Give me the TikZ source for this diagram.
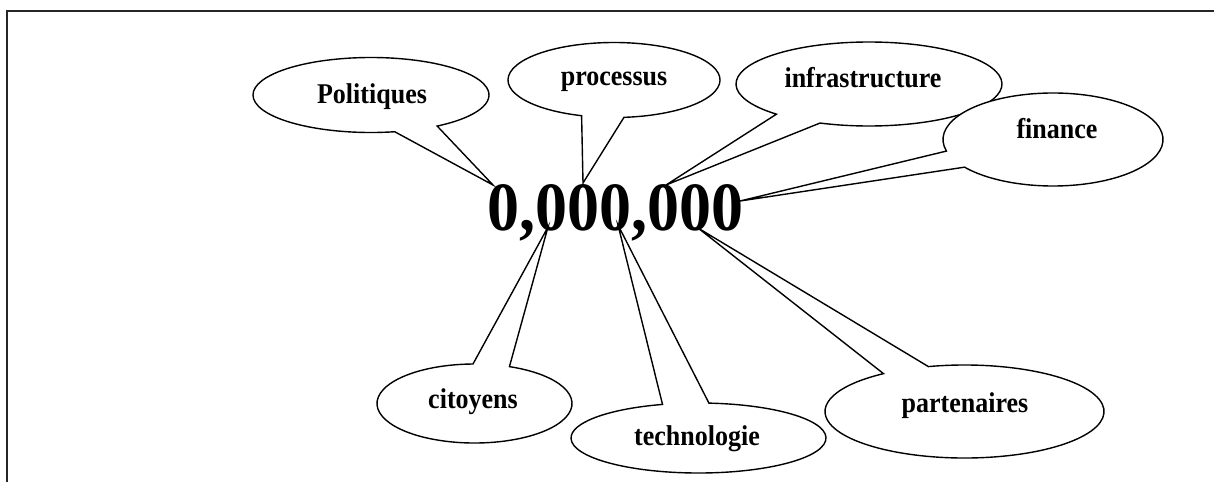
\documentclass[tikz,border=0pt]{standalone}
\usepackage{fontspec}
\setmainfont{Liberation Serif}
\newcommand\tallbox[1]{\scalebox{1}[1.1]{#1}}
% oval callout: centre, x radius, y radius, start angle, end angle, tip
\newcommand\ovalcallout[6]{%
  \path[bubble] (#1) ++(#4:#2 and #3)
    arc[start angle=#4, end angle=#5, x radius=#2, y radius=#3]
    -- (#6) -- cycle;}
\begin{document}
\begin{tikzpicture}[x=1pt,y=-1pt,
  bubble/.style={draw=black, fill=white, line width=1.4pt},
  lbl/.style={font=\fontsize{26}{30}\selectfont\bfseries, anchor=base, inner sep=0pt},
  bignum/.style={font=\fontsize{64}{70}\selectfont\bfseries, anchor=base, inner sep=0pt}]
\useasboundingbox (0,0) rectangle (1214,482);
% open frame
\draw[line width=2pt, draw=black!85] (7,482) -- (7,11) -- (1214,11);

% pointer tips on the figure
\coordinate (tPol) at (493,185);
\coordinate (tPro) at (583,183);
\coordinate (tInf) at (666,185);
\coordinate (tFin) at (740,201);
\coordinate (tCit) at (548,227);
\coordinate (tTec) at (618,225);
\coordinate (tPar) at (698,228);

% ellipse centres
\coordinate (cPol) at (371,95);
\coordinate (cPro) at (614,80);
\coordinate (cInf) at (869,84);
\coordinate (cFin) at (1053,139.5);
\coordinate (cCit) at (474.5,403.5);
\coordinate (cTec) at (698.5,438);
\coordinate (cPar) at (964.5,411.5);

\ovalcallout{cPol}{118}{37.5}{78.4}{415.9}{tPol}
\ovalcallout{cPro}{106}{37.5}{107.8}{444.6}{tPro}
\ovalcallout{cInf}{133}{42}{134.1}{471.6}{tInf}
\ovalcallout{cFin}{110}{46.5}{165.6}{503.5}{tFin}
\ovalcallout{cCit}{97.5}{39.5}{291}{629.1}{tCit}
\ovalcallout{cTec}{127.5}{35}{274.7}{613.6}{tTec}
\ovalcallout{cPar}{139.5}{46.5}{255}{594.5}{tPar}

% labels
\node[lbl] (pol) at (372,103) {\tallbox{Politiques}};
\node[lbl] (pro) at (614,85) {\tallbox{processus}};
\node[lbl] (inf) at (863,87) {\tallbox{infrastructure}};
\node[lbl] (fin) at (1057,138) {\tallbox{finance}};
\node[lbl] (cit) at (473,408) {\tallbox{citoyens}};
\node[lbl] (tec) at (697,445) {\tallbox{technologie}};
\node[lbl] (par) at (965,412) {\tallbox{partenaires}};

\node[bignum] (num) at (615.5,230) {\scalebox{1}[1.08]{0,000,000}};
\end{tikzpicture}
\end{document}
